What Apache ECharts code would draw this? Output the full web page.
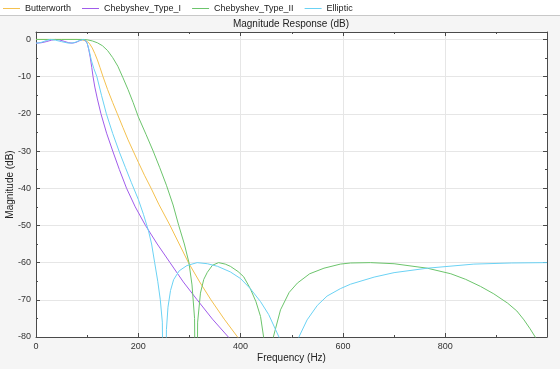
<!DOCTYPE html>
<html>
<head>
<meta charset="utf-8">
<script src="https://cdn.jsdelivr.net/npm/echarts@6/dist/echarts.min.js"></script>
<style>
html,body{margin:0;padding:0;background:#f5f5f5;}
#c{width:560px;height:369px;}
</style>
</head>
<body>
<div id="c"></div>
<script>
// Frequency (Hz), magnitude (dB) pairs
var butterworth = [[0,0],[50,0],[80,0],[90,-0.1],[100,-0.5],[105,-1.2],[110,-2.3],[115,-3.8],[120,-5.5],[125,-7.5],[131,-10],[140,-13.5],[150,-17],[159,-20],[170,-23.7],[180,-27],[190,-30],[200,-33],[212,-36.5],[225,-40],[240,-44.3],[262,-50],[280,-55],[298,-60],[320,-65.2],[342,-70],[368,-75.2],[394,-80],[430,-86]];
var chebyshev1 = [[0,-1],[10,-0.9],[20,-0.6],[30,-0.2],[38,0],[45,-0.1],[55,-0.5],[63,-0.85],[71,-1],[78,-0.8],[85,-0.35],[92,0],[96,-0.2],[100,-1],[103,-2.6],[106,-4.8],[109,-7.5],[111.5,-10],[115,-12.8],[120,-16],[127,-20],[138,-25.2],[150,-30],[163,-35],[177,-40],[194,-45],[214,-50],[237,-55],[262,-60],[288,-65.2],[315,-70],[345,-75.2],[376,-80],[420,-87]];
var chebyshev2 = [[0,0],[50,0],[90,0],[100,-0.1],[110,-0.4],[120,-0.9],[130,-1.7],[140,-3],[150,-4.9],[160,-7.2],[170,-10.3],[180,-13.5],[190,-17],[200,-20.8],[215,-25.5],[229,-30],[242,-34.5],[255,-39.2],[268,-44.5],[279,-50],[290,-55],[299,-60],[305,-66],[310,-75],[313,-130],[316,-76],[321.5,-68.2],[328,-64.5],[335,-62.6],[345,-60.7],[357,-60],[370,-60.4],[380,-61],[395,-62.4],[406,-63.8],[419,-67],[430,-70.5],[439,-74.5],[445,-80],[455,-130],[464,-80],[478,-72.7],[495,-68],[511,-65.5],[535,-63],[563,-61.5],[595,-60.4],[615,-60.1],[654,-60],[700,-60.3],[765,-61.5],[811,-63],[840,-64.5],[869,-66.4],[895,-68.4],[922,-70.9],[940,-73],[954,-75.4],[966,-77.8],[976,-80],[990,-84],[999,-88]];
var elliptic = [[0,-1],[10,-0.8],[20,-0.3],[28,0],[38,-0.2],[50,-0.6],[62,-0.95],[68,-1],[76,-0.8],[85,-0.3],[93,0],[97,-0.3],[100,-1],[104,-3],[108,-5.5],[113,-7.8],[119,-10],[128,-15],[137.6,-20],[150,-25.3],[163.6,-30.5],[175,-34.5],[186.5,-38.5],[200,-43],[210,-47],[220,-51.5],[226,-55],[232,-60],[238,-65],[243,-70],[247,-76],[251,-130],[255,-78],[258,-72],[263,-67.5],[269,-64.6],[280,-62.2],[295,-60.8],[315,-60],[335,-60.3],[355,-61],[380,-62.5],[400,-64.3],[419,-67],[439,-70.5],[455,-74],[475,-80],[485,-86],[494,-130],[503,-88],[514,-80],[530,-75.4],[550,-71.5],[569,-69],[595,-67],[615,-65.8],[661,-63.9],[700,-62.7],[765,-61.5],[856,-60.4],[930,-60.1],[999,-60]];
var seriesNames = ['Butterworth','Chebyshev_Type_I','Chebyshev_Type_II','Elliptic'];
var seriesColors = ['#F4C14F','#A05CEB','#6CC46C','#6BD2F4'];
var seriesData = [butterworth, chebyshev1, chebyshev2, elliptic];

var chart = echarts.init(document.getElementById('c'));
var axisColor = '#4a4a4a';
var FONT = 'Liberation Sans, Arial, sans-serif';
var grid = {left:36, right:13, top:32, bottom:32, containLabel:false, outerBoundsMode:'none', show:true, backgroundColor:'#ffffff', borderWidth:0};
function xAx(pos, labels){
  return {type:'value', position:pos, min:0, max:999, interval:200, gridIndex:0,
    axisLine:{show:true, onZero:false, lineStyle:{color:axisColor, width:1}},
    axisTick:{show:true, inside:true, length:4, lineStyle:{color:axisColor}},
    minorTick:{show:true, splitNumber:2, length:2, lineStyle:{color:axisColor}},
    axisLabel:{show:labels, showMaxLabel:false, color:'#333', fontSize:9, fontFamily:FONT, margin:5},
    splitLine:{show:labels, lineStyle:{color:'#e6e6e6', width:1}},
    name: labels ? 'Frequency (Hz)' : '', nameLocation:'middle', nameGap:16, nameMoveOverlap:false,
    nameTextStyle:{color:'#222', fontSize:10, fontFamily:FONT, verticalAlign:'top'}
  };
}
function yAx(pos, labels){
  return {type:'value', position:pos, min:-80, max:2, interval:10, gridIndex:0,
    axisLine:{show:true, onZero:false, lineStyle:{color:axisColor, width:1}},
    axisTick:{show:true, inside:true, length:4, lineStyle:{color:axisColor}},
    minorTick:{show:true, splitNumber:2, length:2, lineStyle:{color:axisColor}},
    axisLabel:{show:labels, showMaxLabel:false, color:'#333', fontSize:9, fontFamily:FONT, margin:5},
    splitLine:{show:labels, lineStyle:{color:'#e6e6e6', width:1}},
    name: labels ? 'Magnitude (dB)' : '', nameLocation:'middle', nameGap:26, nameRotate:90, nameMoveOverlap:false,
    nameTextStyle:{color:'#222', fontSize:10, fontFamily:FONT, verticalAlign:'middle'}
  };
}
var series = seriesNames.map(function(n,i){
  return {name:n, type:'line', data:seriesData[i], xAxisIndex:0, yAxisIndex:0,
    symbol:'none', smooth:false, clip:true, animation:false,
    lineStyle:{color:seriesColors[i], width:1}, itemStyle:{color:seriesColors[i]}};
});
chart.setOption({
  backgroundColor:'#f5f5f5',
  animation:false,
  title:{text:'Magnitude Response (dB)', left:291, top:19, padding:0, textAlign:'center',
    textStyle:{fontSize:10, fontWeight:'normal', color:'#222', fontFamily:FONT}},
  graphic:[
    {type:'rect', shape:{x:0,y:0,width:560,height:15}, style:{fill:'#ffffff'}, z:-1},
    {type:'line', shape:{x1:0,y1:15.5,x2:560,y2:15.5}, style:{stroke:'#c8c8c8', lineWidth:1}, z:-1}
  ],
  legend:{show:true, left:3, top:4, padding:0, icon:'rect', itemWidth:17, itemHeight:1, itemGap:11,
    textStyle:{fontSize:9, color:'#222', fontFamily:FONT},
    data:seriesNames},
  grid:[grid],
  xAxis:[xAx('bottom', true), xAx('top', false)],
  yAxis:[yAx('left', true), yAx('right', false)],
  series:series
});
</script>
</body>
</html>
